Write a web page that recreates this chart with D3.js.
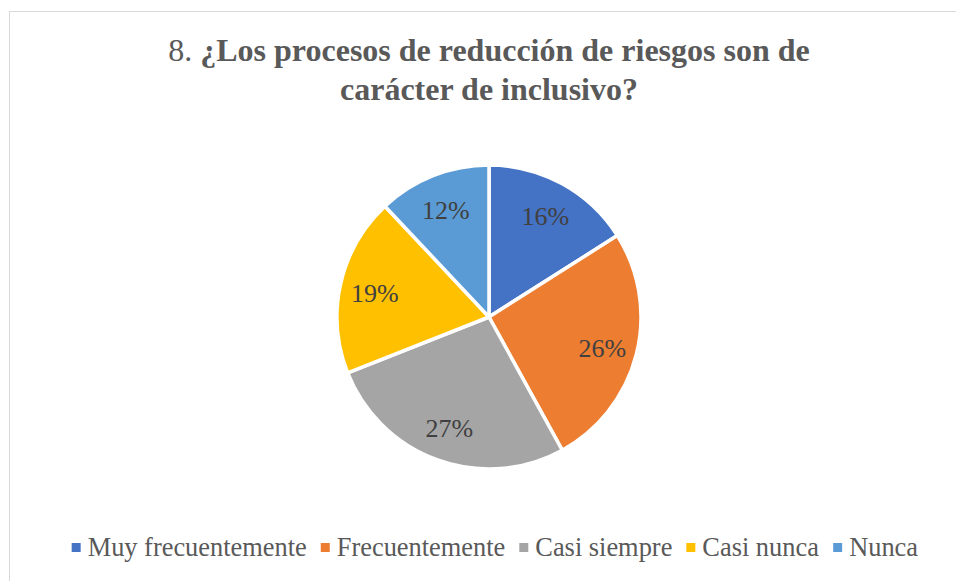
<!DOCTYPE html>
<html>
<head>
<meta charset="utf-8">
<script src="https://cdn.jsdelivr.net/npm/d3@7/dist/d3.min.js"></script>
<style>
  body { margin: 0; background: #fff; }
  svg { display: block; }
</style>
</head>
<body>
<svg id="canvas"></svg>
<script>
const categories = ['Muy frecuentemente', 'Frecuentemente', 'Casi siempre', 'Casi nunca', 'Nunca'];
const values = [16, 26, 27, 19, 12];
const colors = ['#4472C4', '#ED7D31', '#A5A5A5', '#FFC000', '#5B9BD5'];

const width = 956;
const height = 581;
const cx = 489;
const cy = 317;
const radius = 152;
const font = '"Liberation Serif", "Times New Roman", serif';

const svg = d3.select('#canvas')
    .attr('width', width)
    .attr('height', height)

// chart border
svg.append('rect')
    .attr('x', 9.5)
    .attr('y', 11.5)
    .attr('width', width)
    .attr('height', height)
    .attr('fill', 'none')
    .attr('stroke', '#d9d9d9')
    .attr('stroke-width', 1)

// title
const title = svg.append('text')
    .attr('text-anchor', 'middle')
    .attr('font-family', font)
    .attr('font-size', 32)
    .attr('fill', '#595959')

const line1 = title.append('tspan').attr('x', 489).attr('y', 61)
line1.append('tspan').text('8. ')
line1.append('tspan').attr('font-weight', 'bold').text('¿Los procesos de reducción de riesgos son de')
title.append('tspan').attr('x', 489).attr('y', 100)
    .attr('font-weight', 'bold')
    .text('carácter de inclusivo?')

// pie
const pie = d3.pie().sort(null).value(d => d)
const arcs = pie(values)
const arc = d3.arc().innerRadius(0).outerRadius(radius)
const labelArc = d3.arc().innerRadius(117).outerRadius(117)

const g = svg.append('g').attr('transform', `translate(${cx},${cy})`)

g.selectAll('path')
    .data(arcs)
    .enter()
    .append('path')
    .attr('d', arc)
    .attr('fill', (d, i) => colors[i])
    .attr('stroke', '#fff')
    .attr('stroke-width', 3.5)
    .attr('stroke-linejoin', 'round')

g.selectAll('text')
    .data(arcs)
    .enter()
    .append('text')
    .attr('transform', d => `translate(${labelArc.centroid(d)})`)
    .attr('text-anchor', 'middle')
    .attr('dy', '0.4em')
    .attr('font-family', font)
    .attr('font-size', 26)
    .attr('fill', '#404040')
    .text(d => d.data + '%')

// legend
const legend = svg.append('g')
const items = legend.selectAll('g')
    .data(categories)
    .enter()
    .append('g')

items.append('rect')
    .attr('width', 9)
    .attr('height', 9)
    .attr('y', -13)
    .attr('fill', (d, i) => colors[i])

items.append('text')
    .attr('x', 16)
    .attr('font-family', font)
    .attr('font-size', 26.4)
    .attr('fill', '#595959')
    .text(d => d)

let offset = 0
const gap = 14
const xs = []
items.each(function () {
    xs.push(offset)
    offset += this.getBBox().width + gap
})
const total = offset - gap
const startX = 495 - total / 2
items.attr('transform', (d, i) => `translate(${startX + xs[i]},556)`)
</script>
</body>
</html>
